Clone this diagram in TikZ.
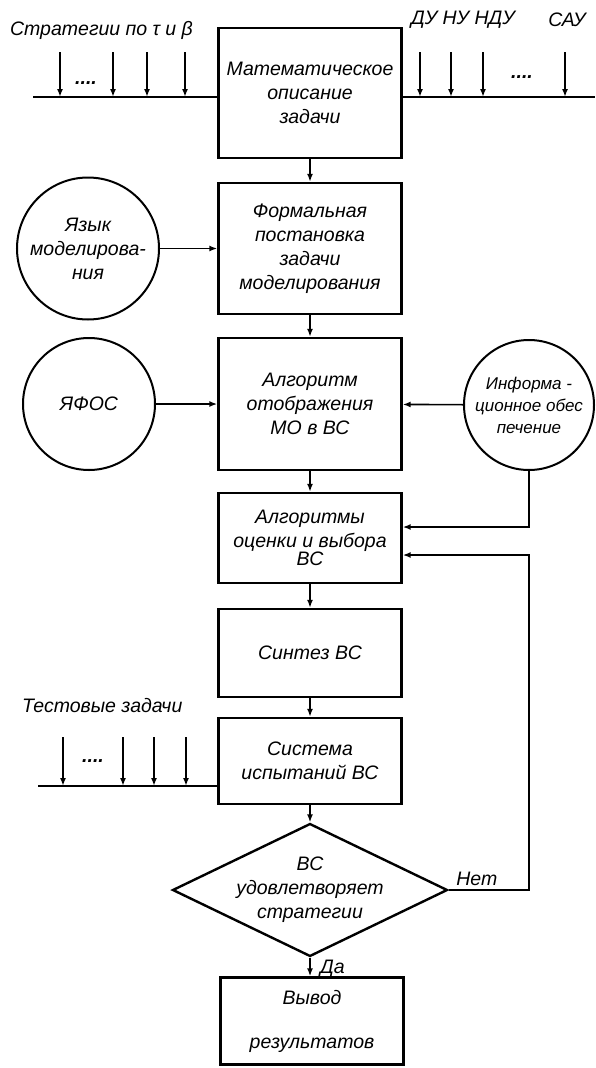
\documentclass[tikz,border=0pt]{standalone}
\usepackage{fontspec}
\setmainfont{Liberation Sans}
\usetikzlibrary{shapes.geometric,arrows.meta}

\begin{document}
\begin{tikzpicture}[x=1pt, y=-1pt, line width=1.6pt,
    every node/.style={font=\itshape\fontsize{19.5}{24}\selectfont, align=center},
    block/.style={draw, line width=2.4pt, rectangle, minimum width=183pt, inner sep=2pt},
    source/.style={draw, line width=2pt, circle, inner sep=0pt},
    decision/.style={draw, line width=2.4pt, diamond, inner sep=-20pt, minimum width=275pt, minimum height=126pt},
    flow/.style={-{Latex[length=8pt,width=6pt]}}]
    \useasboundingbox (0,0) rectangle (595,1068);

    % main chain
    \node[block, minimum height=130pt] (b1) at (310,93) {Математическое\\описание\\задачи};
    \node[block, minimum height=131pt] (b2) at (310,248.5) {Формальная\\постановка\\задачи\\моделирования};
    \node[block, minimum height=132pt] (b3) at (310,404) {Алгоритм\\отображения\\МО в ВС};
    \node[block, minimum height=90pt] (b4) at (310,538) {Алгоритмы\\оценки и выбора\\[-6pt]ВС};
    \node[block, minimum height=88pt] (b5) at (310,653) {Синтез ВС};
    \node[block, minimum height=86pt] (b6) at (310,761) {Система\\испытаний ВС};
    \node[decision] (dec) at (310,890) {ВС\\удовлетворяет\\стратегии};
    \node[block, minimum height=87pt] (b7) at (312,1021) {Вывод\\[20pt]результатов};

    % side sources
    \node[source, minimum size=142pt] (lang) at (88,248.5) {Язык\\моделирова-\\ния};
    \node[source, minimum size=132pt] (yafos) at (89,404) {ЯФОС};
    \node[source, minimum size=130pt, font=\itshape\fontsize{17}{22}\selectfont] (info) at (529,405) {Информа -\\ционное обес\\печение};

    \draw[flow] (b1) -- (b2);
    \draw[flow] (b2) -- (b3);
    \draw[flow] (b3) -- (b4);
    \draw[flow] (b4) -- (b5);
    \draw[flow] (b5) -- (b6);
    \draw[flow] (b6) -- (dec);
    \draw[flow] (dec.south) -- node[right, xshift=6pt, yshift=-2pt] (yes) {Да} (dec.south |- b7.north);

    \draw[flow] (lang) -- (b2);
    \draw[flow] (yafos) -- (b3);
    \draw[flow] (info) -- (b3);
    \draw[flow] (info.south) |- ([yshift=11pt]b4.east);
    \draw[flow] (dec.east) -- node[above, xshift=-12pt] (no) {Нет} (dec.east -| info.south) |- ([yshift=-17pt]b4.east);

    % inputs of the first block
    \coordinate (busL) at (33,97);
    \coordinate (busR) at (595,97);
    \draw (busL) -- (busL -| b1.west);
    \draw (b1.east |- busR) -- (busR);
    \foreach \x [count=\i] in {60,113,147,185} {
      \coordinate (sl\i) at (\x,52);
      \draw[flow] (sl\i) -- (sl\i |- busL);
    }
    \foreach \x [count=\i] in {420,451,483,565} {
      \coordinate (sr\i) at (\x,52);
      \draw[flow] (sr\i) -- (sr\i |- busR);
    }
    \node (dotsL) at (86,83) {\textbf{....}};
    \node (dotsR) at (522,77) {\textbf{....}};
    \node[anchor=west] (strat) at (6,30) {Стратегии по τ и β};
    \node (eqs) at (463,20) {ДУ НУ НДУ};
    \node (sau) at (567,20) {САУ};

    % test tasks
    \coordinate (busT) at (38,786);
    \draw (busT) -- (busT -| b6.west);
    \foreach \x [count=\i] in {63,123,154,186} {
      \coordinate (st\i) at (\x,737);
      \draw[flow] (st\i) -- (st\i |- busT);
    }
    \node (dotsT) at (93,761) {\textbf{....}};
    \node[anchor=west] (tests) at (18,706) {Тестовые задачи};
\end{tikzpicture}
\end{document}
